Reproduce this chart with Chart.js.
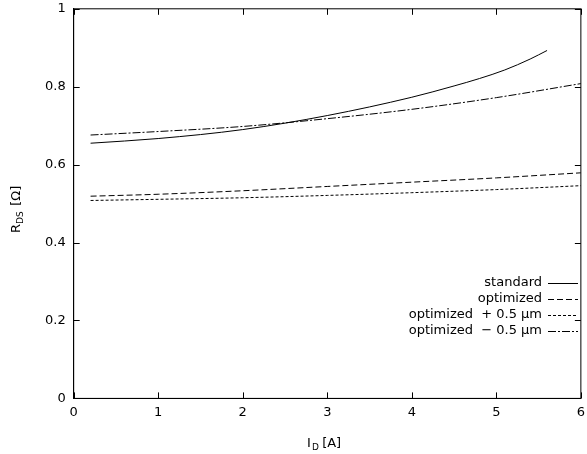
<!DOCTYPE html>
<html><head><meta charset="utf-8">
<script src="https://cdn.jsdelivr.net/npm/chart.js@4/dist/chart.umd.min.js"></script>
<style>body{margin:0;background:#fff;overflow:hidden}#wrap{position:absolute;left:0;top:-7px;width:591px;height:461px}</style>
</head><body><div id="wrap"><canvas id="c"></canvas></div>
<script>
const xs = [0.2, 1, 2, 3, 4, 4.5, 4.8, 5.1, 5.4, 5.6];
const standard = [0.655, 0.667, 0.69, 0.726, 0.773, 0.802, 0.821, 0.843, 0.871, 0.893];
const xsLong = [0.2, 1, 2, 3, 4, 5, 6];
const optimized = [0.519, 0.524, 0.533, 0.544, 0.555, 0.566, 0.579];
const optPlus = [0.508, 0.511, 0.515, 0.521, 0.528, 0.536, 0.546];
const optMinus = [0.676, 0.685, 0.698, 0.718, 0.742, 0.772, 0.808];
const labels = ['standard', 'optimized', 'optimized  + 0.5 \u03bcm', 'optimized  \u2212 0.5 \u03bcm'];
const dashes = [[], [6, 3], [3, 2], [8, 2, 2, 2]];

const pts = (x, y) => x.map((v, i) => ({ x: v, y: y[i] }));
const series = [pts(xs, standard), pts(xsLong, optimized), pts(xsLong, optPlus), pts(xsLong, optMinus)];

const F = '13px "DejaVu Sans", sans-serif';
const deco = {
  id: 'deco',
  afterDraw(chart) {
    const ctx = chart.ctx;
    ctx.save();
    ctx.translate(0, 7);
    ctx.fillStyle = '#000'; ctx.strokeStyle = '#000';
    ctx.font = F; ctx.textAlign = 'right'; ctx.textBaseline = 'middle';
    labels.forEach((t, i) => {
      const y = 283 + i * 16;
      ctx.fillText(t, 542, y);
      ctx.setLineDash(dashes[i]); ctx.lineWidth = 1;
      ctx.beginPath(); ctx.moveTo(548, y + 0.5); ctx.lineTo(578, y + 0.5); ctx.stroke();
    });
    ctx.setLineDash([]);
    ctx.textAlign = 'left'; ctx.textBaseline = 'alphabetic';
    ctx.fillText('I', 307, 447);
    ctx.font = '9px "DejaVu Sans", sans-serif'; ctx.fillText('D', 312, 450);
    ctx.font = F; ctx.fillText(' [A]', 318, 447);
    ctx.translate(20, 203); ctx.rotate(-Math.PI / 2);
    ctx.fillText('R', -30, 0);
    ctx.font = '9px "DejaVu Sans", sans-serif'; ctx.fillText('DS', -21, 3);
    ctx.font = F; ctx.fillText(' [\u03a9]', -7, 0);
    ctx.restore();
  }
};

new Chart(document.getElementById('c'), {
  type: 'scatter',
  data: {
    datasets: series.map((d, i) => ({
      label: labels[i], data: d, showLine: true, pointRadius: 0,
      borderColor: '#000', borderWidth: 1, borderDash: dashes[i], cubicInterpolationMode: 'monotone'
    }))
  },
  options: {
    responsive: true, maintainAspectRatio: false, animation: false,
    layout: { padding: { top: 1, right: 2, bottom: 28, left: 37 } },
    plugins: { legend: { display: false }, tooltip: { enabled: false } },
    scales: {
      x: {
        min: 0, max: 6,
        border: { color: '#000' },
        grid: { display: false, drawTicks: false },
        ticks: { stepSize: 1, color: '#000', font: { size: 13, family: 'DejaVu Sans' }, padding: 6 }
      },
      y: {
        min: 0, max: 1,
        border: { color: '#000' },
        grid: { display: false, drawTicks: false },
        ticks: { stepSize: 0.2, color: '#000', font: { size: 13, family: 'DejaVu Sans' }, padding: 8,
          callback: v => v === 0 ? '0' : v === 1 ? '1' : v.toFixed(1) }
      }
    }
  },
  plugins: [deco, {
    id: 'frame',
    afterDraw(chart) {
      const ctx = chart.ctx, a = chart.chartArea, sx = chart.scales.x, sy = chart.scales.y;
      ctx.save(); ctx.strokeStyle = '#000'; ctx.lineWidth = 1;
      ctx.strokeRect(a.left, a.top, a.right - a.left, a.bottom - a.top);
      ctx.beginPath();
      for (let v = 0; v <= 6; v++) {
        const x = Math.round(sx.getPixelForValue(v)) + 0.5;
        ctx.moveTo(x, a.bottom); ctx.lineTo(x, a.bottom - 6);
        ctx.moveTo(x, a.top); ctx.lineTo(x, a.top + 6);
      }
      for (let v = 0; v <= 1.001; v += 0.2) {
        const y = Math.round(sy.getPixelForValue(v)) + 0.5;
        ctx.moveTo(a.left, y); ctx.lineTo(a.left + 6, y);
        ctx.moveTo(a.right, y); ctx.lineTo(a.right - 6, y);
      }
      ctx.stroke(); ctx.restore();
    }
  }]
});
</script></body></html>
